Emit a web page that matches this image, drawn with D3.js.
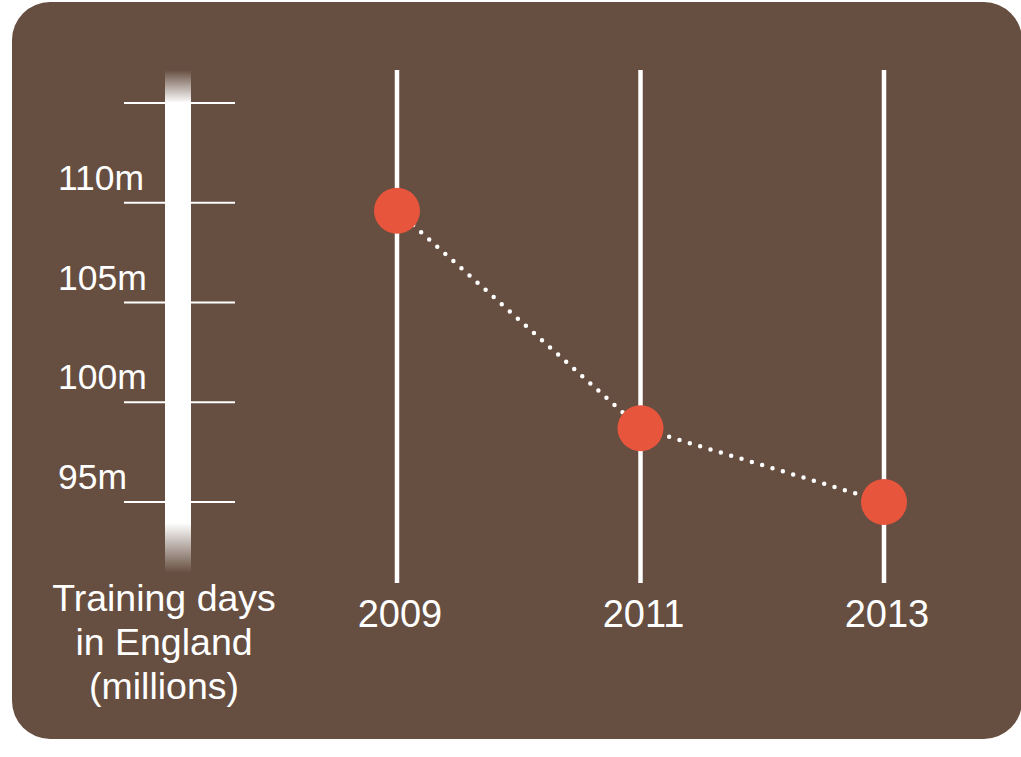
<!DOCTYPE html>
<html>
<head>
<meta charset="utf-8">
<script src="https://cdn.jsdelivr.net/npm/d3@7"></script>
<style>
  html, body { margin: 0; padding: 0; background: #ffffff; }
  svg { display: block; }
  text { font-family: "Liberation Sans", Arial, Helvetica, sans-serif; fill: #ffffff; }
</style>
</head>
<body>
<svg id="chart" width="1021" height="757"></svg>
<script>
// ---- data ----
const years = ["2009", "2011", "2013"];
const trainingDays = [109.6, 98.7, 95.0];          // millions
const tickValues = [115, 110, 105, 100, 95];
const tickLabels = ["", "110m", "105m", "100m", "95m"];
const axisTitle = ["Training days", "in England", "(millions)"];

// ---- layout ----
const bg = "#664e40";
const dotColor = "#e8553d";

const svg = d3.select("#chart");

svg.append("rect")
  .attr("x", 12).attr("y", 2)
  .attr("width", 1010).attr("height", 737)
  .attr("rx", 38).attr("ry", 38)
  .attr("fill", bg);

const y = d3.scaleLinear().domain([95, 115]).range([502, 103]);
const x = d3.scalePoint().domain(years).range([397, 884]);

// gradient for the axis bar
const defs = svg.append("defs");
const barTop = 70, barBot = 573;
const grad = defs.append("linearGradient")
  .attr("id", "barGrad")
  .attr("gradientUnits", "userSpaceOnUse")
  .attr("x1", 0).attr("x2", 0).attr("y1", barTop).attr("y2", barBot);
const f = v => (v - barTop) / (barBot - barTop);
grad.append("stop").attr("offset", 0).attr("stop-color", "#fff").attr("stop-opacity", 0);
grad.append("stop").attr("offset", f(y(115))).attr("stop-color", "#fff").attr("stop-opacity", 1);
grad.append("stop").attr("offset", f(523)).attr("stop-color", "#fff").attr("stop-opacity", 1);
grad.append("stop").attr("offset", 1).attr("stop-color", "#fff").attr("stop-opacity", 0);

// axis bar
svg.append("rect")
  .attr("x", 165).attr("y", barTop)
  .attr("width", 26).attr("height", barBot - barTop)
  .attr("fill", "url(#barGrad)");

// tick lines
svg.append("g").selectAll("line")
  .data(tickValues)
  .join("line")
  .attr("x1", 124).attr("x2", 235)
  .attr("y1", d => y(d)).attr("y2", d => y(d))
  .attr("stroke", "#fff").attr("stroke-width", 2);

// tick labels
svg.append("g").selectAll("text")
  .data(tickValues.map((v, i) => ({ v, label: tickLabels[i] })).filter(d => d.label))
  .join("text")
  .attr("x", 58)
  .attr("y", d => y(d.v) - 13)
  .attr("font-size", 35.5)
  .text(d => d.label);

// axis title
svg.append("text")
  .attr("text-anchor", "middle")
  .attr("font-size", 37.5)
  .selectAll("tspan")
  .data(axisTitle)
  .join("tspan")
  .attr("x", 164)
  .attr("y", (d, i) => 611 + i * 44)
  .text(d => d);

// year vertical lines
svg.append("g").selectAll("line")
  .data(years)
  .join("line")
  .attr("x1", d => x(d)).attr("x2", d => x(d))
  .attr("y1", 70).attr("y2", 583)
  .attr("stroke", "#fff").attr("stroke-width", 4.5);

// year labels
svg.append("g").selectAll("text")
  .data(years)
  .join("text")
  .attr("x", d => x(d) + 3)
  .attr("y", 627)
  .attr("text-anchor", "middle")
  .attr("font-size", 38)
  .text(d => d);

// dotted connecting line
const pts = years.map((yr, i) => [x(yr), y(trainingDays[i])]);
svg.append("path")
  .attr("d", d3.line()(pts))
  .attr("fill", "none")
  .attr("stroke", "#fff")
  .attr("stroke-width", 4.5)
  .attr("stroke-linecap", "round")
  .attr("stroke-dasharray", "0 10.8");

// points
svg.append("g").selectAll("circle")
  .data(pts)
  .join("circle")
  .attr("cx", d => d[0]).attr("cy", d => d[1])
  .attr("r", 23)
  .attr("fill", dotColor);
</script>
</body>
</html>
